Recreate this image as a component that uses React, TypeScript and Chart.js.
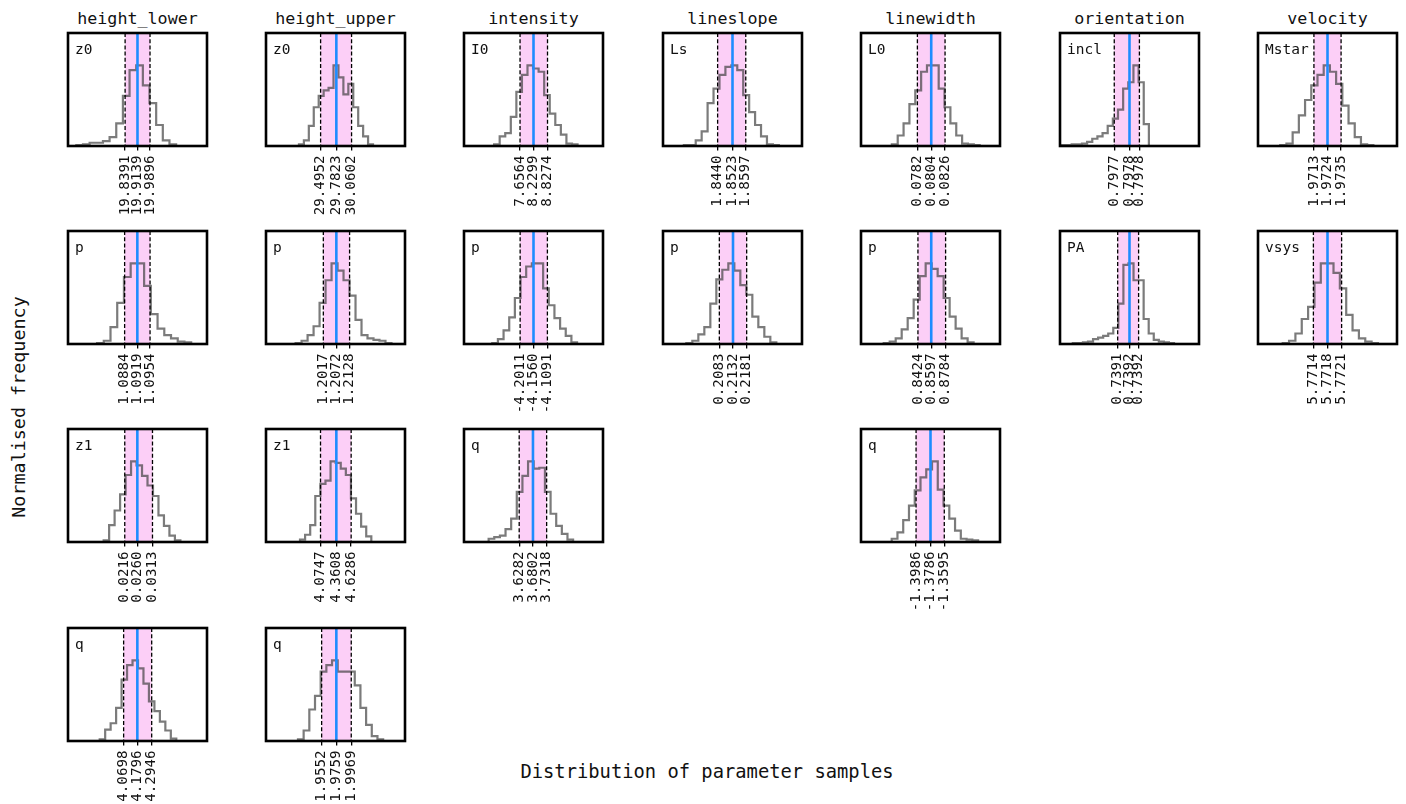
import React, { useEffect, useRef } from "react";
import { Chart, registerables } from "chart.js";
Chart.register(...registerables);

// ---------- data ----------
const columnTitles = ["height_lower", "height_upper", "intensity", "lineslope", "linewidth", "orientation", "velocity"];

// quantiles (16th, 50th, 84th), axis range, histogram [first edge, bin width], normalised counts
const hlZ0Q = [19.8391, 19.9139, 19.9896];
const hlZ0X = [19.494, 20.334];
const hlZ0B = [19.5444, 0.0402];
const hlZ0H = [0.01, 0.02, 0.04, 0.04, 0.06, 0.11, 0.28, 0.62, 0.94, 1.0, 0.75, 0.53, 0.26, 0.07, 0.02];

const huZ0Q = [29.4952, 29.7823, 30.0602];
const huZ0X = [28.4985, 31.0354];
const huZ0B = [29.1, 0.0901];
const huZ0H = [0.02, 0.07, 0.25, 0.48, 0.62, 0.69, 0.72, 1.0, 0.85, 0.64, 0.77, 0.48, 0.25, 0.12, 0.02];

const intI0Q = [7.6564, 8.2299, 8.8274];
const intI0X = [5.268, 11.192];
const intI0B = [6.552, 0.237];
const intI0H = [0.02, 0.12, 0.16, 0.36, 0.67, 0.88, 1.0, 0.96, 0.92, 0.63, 0.4, 0.26, 0.14, 0.03, 0.02];

const lsLsQ = [1.844, 1.8523, 1.8597];
const lsLsX = [1.81351, 1.89109];
const lsLsB = [1.82515, 0.003313];
const lsLsH = [0.01, 0.01, 0.07, 0.18, 0.53, 0.71, 0.88, 0.98, 1.0, 0.94, 0.63, 0.42, 0.26, 0.12, 0.02, 0.01];

const lwL0Q = [0.0782, 0.0804, 0.0826];
const lwL0X = [0.06923, 0.09134];
const lwL0B = [0.07414, 0.000931];
const lwL0H = [0.02, 0.13, 0.28, 0.52, 0.69, 0.92, 1.0, 1.0, 0.71, 0.48, 0.28, 0.13, 0.03, 0.02, 0.01];

const orInclQ = [0.79771, 0.7977706, 0.79781];
const orInclX = [0.7974942, 0.798047];
const orInclB = [0.7974997, 0.00002047];
const orInclH = [0.01, 0.01, 0.02, 0.02, 0.03, 0.05, 0.09, 0.12, 0.16, 0.25, 0.34, 0.45, 0.71, 0.79, 1.0, 0.79, 0.27];

const velMstarQ = [1.9713, 1.9724, 1.9735];
const velMstarX = [1.96677, 1.97803];
const velMstarB = [1.968571, 0.000503];
const velMstarH = [0.01, 0.03, 0.17, 0.38, 0.57, 0.75, 0.88, 1.0, 0.92, 0.77, 0.5, 0.28, 0.11, 0.02, 0.01];

const hlPQ = [1.0884, 1.0919, 1.0954];
const hlPX = [1.07281, 1.11108];
const hlPB = [1.08081, 0.001851];
const hlPH = [0.01, 0.04, 0.21, 0.51, 0.83, 1.0, 1.0, 0.72, 0.37, 0.19, 0.11, 0.07, 0.03, 0.02];

const huPQ = [1.2017, 1.2072, 1.2128];
const huPX = [1.17746, 1.23623];
const huPB = [1.18998, 0.002533];
const huPH = [0.01, 0.04, 0.11, 0.22, 0.51, 0.79, 1.0, 0.91, 0.79, 0.6, 0.3, 0.11, 0.07, 0.05, 0.04, 0.01];

const intPQ = [-4.2011, -4.156, -4.1091];
const intPX = [-4.3906, -3.9214];
const intPB = [-4.2952, 0.01908];
const intPH = [0.01, 0.06, 0.17, 0.33, 0.57, 0.83, 0.96, 1.0, 1.0, 0.69, 0.48, 0.32, 0.19, 0.1, 0.02];

const lsPQ = [0.2083, 0.2132, 0.2181];
const lsPX = [0.1881, 0.23794];
const lsPB = [0.19647, 0.002151];
const lsPH = [0.01, 0.04, 0.12, 0.21, 0.5, 0.8, 0.92, 1.0, 0.91, 0.73, 0.61, 0.34, 0.21, 0.09, 0.02];

const lwPQ = [0.8424, 0.8597, 0.8784];
const lwPX = [0.7683, 0.9492];
const lwPB = [0.79786, 0.0078];
const lwPH = [0.01, 0.03, 0.07, 0.18, 0.32, 0.55, 0.84, 1.0, 0.93, 0.84, 0.57, 0.34, 0.19, 0.07, 0.02];

const orPAQ = [0.7391218, 0.739167, 0.7392018];
const orPAX = [0.7389012, 0.7394328];
const orPAB = [0.7389502, 0.00001935];
const orPAH = [0.01, 0.01, 0.02, 0.03, 0.06, 0.08, 0.1, 0.13, 0.2, 0.5, 0.98, 1.0, 0.79, 0.79, 0.31, 0.13, 0.05, 0.03, 0.02, 0.01];

const velVsysQ = [5.77143, 5.77178, 5.77213];
const velVsysX = [5.770056, 5.773504];
const velVsysB = [5.770669, 0.0001575];
const velVsysH = [0.01, 0.04, 0.13, 0.31, 0.46, 0.76, 1.0, 1.0, 0.88, 0.69, 0.36, 0.17, 0.07, 0.03, 0.01];

const hlZ1Q = [0.0216, 0.026, 0.0313];
const hlZ1X = [0.001751, 0.050365];
const hlZ1B = [0.01422, 0.001917];
const hlZ1H = [0.02, 0.21, 0.39, 0.59, 0.83, 1.0, 0.95, 0.82, 0.7, 0.57, 0.33, 0.2, 0.08, 0.02];

const huZ1Q = [4.0747, 4.3608, 4.6286];
const huZ1X = [3.0888, 5.6024];
const huZ1B = [3.7038, 0.0921];
const huZ1H = [0.03, 0.09, 0.21, 0.57, 0.72, 0.76, 1.0, 0.98, 0.91, 0.83, 0.54, 0.35, 0.19, 0.07];

const intQQ = [3.6282, 3.6802, 3.7318];
const intQX = [3.4199, 3.9445];
const intQB = [3.5129, 0.02125];
const intQH = [0.04, 0.06, 0.08, 0.16, 0.29, 0.62, 0.82, 1.0, 0.91, 0.92, 0.62, 0.35, 0.2, 0.1, 0.03];

const lwQQ = [-1.3986, -1.3786, -1.3595];
const lwQX = [-1.4749, -1.2823];
const lwQB = [-1.43236, 0.00798];
const lwQH = [0.04, 0.12, 0.27, 0.45, 0.64, 0.8, 0.9, 1.0, 0.65, 0.45, 0.29, 0.14, 0.04, 0.03, 0.02];

const hlQQ = [4.0698, 4.1796, 4.2946];
const hlQX = [3.624, 4.7378];
const hlQB = [3.878, 0.04384];
const hlQH = [0.02, 0.14, 0.22, 0.41, 0.76, 0.94, 1.0, 0.9, 0.71, 0.49, 0.37, 0.24, 0.13, 0.03];

const huQQ = [1.9552, 1.9759, 1.9969];
const huQX = [1.87685, 2.07258];
const huQB = [1.92187, 0.007995];
const huQH = [0.02, 0.13, 0.39, 0.56, 0.86, 0.94, 1.0, 0.86, 0.86, 0.86, 0.69, 0.41, 0.2, 0.06, 0.02];

type PanelSpec = { col: number; row: number; name: string; q: number[]; xr: number[]; bins: number[]; counts: number[] };

const panels: PanelSpec[] = [
  { col: 0, row: 0, name: "z0", q: hlZ0Q, xr: hlZ0X, bins: hlZ0B, counts: hlZ0H },
  { col: 0, row: 1, name: "p", q: hlPQ, xr: hlPX, bins: hlPB, counts: hlPH },
  { col: 0, row: 2, name: "z1", q: hlZ1Q, xr: hlZ1X, bins: hlZ1B, counts: hlZ1H },
  { col: 0, row: 3, name: "q", q: hlQQ, xr: hlQX, bins: hlQB, counts: hlQH },
  { col: 1, row: 0, name: "z0", q: huZ0Q, xr: huZ0X, bins: huZ0B, counts: huZ0H },
  { col: 1, row: 1, name: "p", q: huPQ, xr: huPX, bins: huPB, counts: huPH },
  { col: 1, row: 2, name: "z1", q: huZ1Q, xr: huZ1X, bins: huZ1B, counts: huZ1H },
  { col: 1, row: 3, name: "q", q: huQQ, xr: huQX, bins: huQB, counts: huQH },
  { col: 2, row: 0, name: "I0", q: intI0Q, xr: intI0X, bins: intI0B, counts: intI0H },
  { col: 2, row: 1, name: "p", q: intPQ, xr: intPX, bins: intPB, counts: intPH },
  { col: 2, row: 2, name: "q", q: intQQ, xr: intQX, bins: intQB, counts: intQH },
  { col: 3, row: 0, name: "Ls", q: lsLsQ, xr: lsLsX, bins: lsLsB, counts: lsLsH },
  { col: 3, row: 1, name: "p", q: lsPQ, xr: lsPX, bins: lsPB, counts: lsPH },
  { col: 4, row: 0, name: "L0", q: lwL0Q, xr: lwL0X, bins: lwL0B, counts: lwL0H },
  { col: 4, row: 1, name: "p", q: lwPQ, xr: lwPX, bins: lwPB, counts: lwPH },
  { col: 4, row: 2, name: "q", q: lwQQ, xr: lwQX, bins: lwQB, counts: lwQH },
  { col: 5, row: 0, name: "incl", q: orInclQ, xr: orInclX, bins: orInclB, counts: orInclH },
  { col: 5, row: 1, name: "PA", q: orPAQ, xr: orPAX, bins: orPAB, counts: orPAH },
  { col: 6, row: 0, name: "Mstar", q: velMstarQ, xr: velMstarX, bins: velMstarB, counts: velMstarH },
  { col: 6, row: 1, name: "vsys", q: velVsysQ, xr: velVsysX, bins: velVsysB, counts: velVsysH },
];

// ---------- layout / style ----------
const FONT = "'DejaVu Sans Mono', 'Liberation Mono', monospace";
const COL_LEFT0 = 67.5;
const COL_PITCH = 198.4;
const ROW_TOP0 = 33;
const ROW_PITCH = 198.2;
const PANEL_W = 139;
const PANEL_H = 113;
const PAD_X = 14;
const PAD_TOP = 6;
const AXIS_H = 80;
const PINK = "rgb(252, 207, 247)";
const BLUE = "rgb(30, 140, 255)";
const HIST = "rgba(60, 60, 60, 0.68)";

const panelLeft = (c: number) => Math.round(COL_LEFT0 + COL_PITCH * c);
const panelTop = (r: number) => Math.round(ROW_TOP0 + ROW_PITCH * r);

function stepPoints(bins: number[], counts: number[]) {
  const [start, w] = bins;
  const pts: { x: number; y: number }[] = [{ x: start, y: 0 }];
  counts.forEach((c, i) => {
    pts.push({ x: start + i * w, y: c });
    pts.push({ x: start + (i + 1) * w, y: c });
  });
  pts.push({ x: start + counts.length * w, y: 0 });
  return pts;
}

function Panel({ spec }: { spec: PanelSpec }) {
  const ref = useRef<HTMLCanvasElement | null>(null);
  useEffect(() => {
    const canvas = ref.current;
    if (!canvas) return;
    const q = spec.q;
    const decor = {
      id: "panelDecor",
      beforeDatasetsDraw(chart: any) {
        const { ctx, chartArea: a } = chart;
        const x = chart.scales.x;
        const x0 = x.getPixelForValue(q[0]);
        const x1 = x.getPixelForValue(q[2]);
        ctx.save();
        ctx.fillStyle = PINK;
        ctx.fillRect(x0, a.top, x1 - x0, a.bottom - a.top);
        ctx.restore();
      },
      afterDatasetsDraw(chart: any) {
        const { ctx, chartArea: a } = chart;
        const x = chart.scales.x;
        ctx.save();
        ctx.strokeStyle = "#000";
        ctx.lineWidth = 1.3;
        ctx.setLineDash([4, 2.2]);
        [q[0], q[2]].forEach((v) => {
          const px = x.getPixelForValue(v);
          ctx.beginPath();
          ctx.moveTo(px, a.top);
          ctx.lineTo(px, a.bottom);
          ctx.stroke();
        });
        ctx.setLineDash([]);
        ctx.strokeStyle = BLUE;
        ctx.lineWidth = 2.6;
        const pm = x.getPixelForValue(q[1]);
        ctx.beginPath();
        ctx.moveTo(pm, a.top);
        ctx.lineTo(pm, a.bottom);
        ctx.stroke();
        ctx.restore();
      },
      afterDraw(chart: any) {
        const { ctx, chartArea: a } = chart;
        ctx.save();
        ctx.strokeStyle = "#000";
        ctx.lineWidth = 2.6;
        ctx.strokeRect(a.left, a.top, a.right - a.left, a.bottom - a.top);
        ctx.fillStyle = "#111";
        ctx.font = `14.5px ${FONT}`;
        ctx.textBaseline = "middle";
        ctx.textAlign = "left";
        ctx.fillText(spec.name, a.left + 7, a.top + 17);
        ctx.restore();
      },
    };
    const chart = new Chart(canvas, {
      type: "line",
      data: {
        datasets: [
          {
            data: stepPoints(spec.bins, spec.counts),
            borderColor: HIST,
            borderWidth: 2.2,
            pointRadius: 0,
            fill: false,
            tension: 0,
          },
        ],
      },
      options: {
        animation: false,
        responsive: false,
        maintainAspectRatio: false,
        events: [],
        layout: { padding: { left: PAD_X, right: PAD_X, top: PAD_TOP, bottom: 0 } },
        plugins: { legend: { display: false }, tooltip: { enabled: false }, title: { display: false } },
        scales: {
          x: {
            type: "linear",
            position: "bottom",
            min: spec.xr[0],
            max: spec.xr[1],
            afterBuildTicks: (axis: any) => {
              axis.ticks = q.map((v) => ({ value: v }));
            },
            afterFit: (axis: any) => {
              axis.height = AXIS_H;
            },
            ticks: {
              autoSkip: false,
              minRotation: 90,
              maxRotation: 90,
              padding: 5,
              color: "#111",
              font: { family: FONT, size: 14.2 },
              callback: (v: any) => Number(v).toFixed(4),
            },
            grid: { display: true, drawOnChartArea: false, drawTicks: true, tickLength: 4.5, color: "#000", lineWidth: 1.3 },
            border: { display: false },
          },
          y: { display: false, min: 0, max: 1.4 },
        },
      } as any,
      plugins: [decor as any],
    });
    return () => chart.destroy();
  }, [spec]);

  const w = PANEL_W + 2 * PAD_X;
  const h = PAD_TOP + PANEL_H + AXIS_H;
  return (
    <canvas
      ref={ref}
      width={w}
      height={h}
      style={{ position: "absolute", left: panelLeft(spec.col) - PAD_X, top: panelTop(spec.row) - PAD_TOP, width: w, height: h }}
    />
  );
}

export default function App() {
  return (
    <div style={{ position: "absolute", left: 0, top: 0, width: 1406, height: 804, background: "#fff", overflow: "hidden" }}>
      {columnTitles.map((t, c) => (
        <div
          key={t}
          style={{
            position: "absolute",
            left: panelLeft(c),
            width: PANEL_W,
            top: 10,
            textAlign: "center",
            fontFamily: FONT,
            fontSize: 16.7,
            lineHeight: 1,
            color: "#111",
            whiteSpace: "nowrap",
          }}
        >
          {t}
        </div>
      ))}
      {panels.map((p) => (
        <Panel key={`${p.col}-${p.row}`} spec={p} />
      ))}
      <div
        style={{
          position: "absolute",
          left: 707,
          top: 763,
          transform: "translateX(-50%)",
          fontFamily: FONT,
          fontSize: 18.8,
          lineHeight: 1,
          color: "#111",
          whiteSpace: "nowrap",
        }}
      >
        Distribution of parameter samples
      </div>
      <div
        style={{
          position: "absolute",
          left: 19,
          top: 407,
          transform: "translate(-50%, -50%) rotate(-90deg)",
          fontFamily: FONT,
          fontSize: 18.4,
          lineHeight: 1,
          color: "#111",
          whiteSpace: "nowrap",
        }}
      >
        Normalised frequency
      </div>
    </div>
  );
}
